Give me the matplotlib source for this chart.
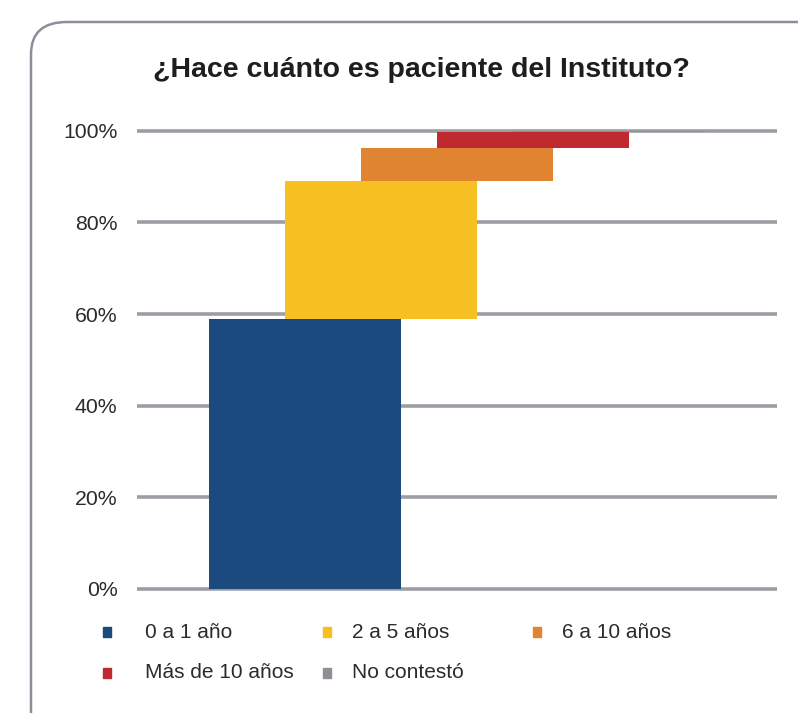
import numpy as np
import matplotlib.pyplot as plt
from matplotlib.patches import FancyBboxPatch

plt.rcParams['font.family'] = ['Liberation Sans', 'DejaVu Sans']

# datos (porcentaje de pacientes)
categorias = ["0 a 1 año", "2 a 5 años", "6 a 10 años", "Más de 10 años", "No contestó"]
valores = [59.0, 30.0, 7.3, 3.4, 0.3]
colores = ["#1a4a7e", "#f6c022", "#e08431", "#c0292f", "#8d9196"]
yticks = [0, 20, 40, 60, 80, 100]
titulo = "¿Hace cuánto es paciente del Instituto?"

W, H = 798, 713
fig = plt.figure(figsize=(W / 100, H / 100), dpi=100)

# marco redondeado que se sale por derecha y abajo
marco = FancyBboxPatch((31 / W, -0.2), 1.2, (H - 22) / H + 0.2,
                       boxstyle="round,pad=0,rounding_size=0.045",
                       transform=fig.transFigure, facecolor="white",
                       edgecolor="#8a9099", linewidth=1.8, clip_on=False, zorder=-5)
fig.patches.append(marco)

ax = fig.add_axes([137 / W, (H - 589) / H, (777 - 137) / W, (589 - 130.7) / H])
ax.patch.set_visible(False)

# barras tipo cascada: cada una arranca donde termina la anterior
x = np.arange(len(valores))
bases = np.concatenate([[0], np.cumsum(valores)[:-1]])
ax.bar(x, valores, bottom=bases, width=2.53, color=colores, zorder=3)

ax.set_xlim(-2.21, 6.21)
ax.set_ylim(0, 100)
ax.set_yticks(yticks)
ax.set_yticklabels([f"{t}%" for t in yticks], fontsize=15.3, color="#2b2b2b")
ax.set_xticks([])
ax.tick_params(axis='y', length=0, pad=14)
for s in ax.spines.values():
    s.set_visible(False)
for t in yticks:
    ax.axhline(t, color="#9b9fa4", linewidth=2.6, zorder=1, clip_on=False,
               solid_capstyle='butt')

fig.text(421 / W, 1 - 70 / H, titulo, ha='center', va='center',
         fontsize=20.5, fontweight='bold', color="#1e1e1e")

# leyenda a mano, en tres columnas
col_x = [107, 327, 537]
fila_y = [632, 673]
for i, (lab, c) in enumerate(zip(categorias, colores)):
    cx = col_x[i % 3]
    cy = fila_y[i // 3]
    fig.patches.append(plt.Rectangle(((cx - 4) / W, 1 - (cy + 5) / H), 8 / W, 10 / H,
                                     transform=fig.transFigure, color=c))
    fig.text((cx + 38 if i % 3 == 0 else cx + 25) / W, 1 - cy / H, lab,
             ha='left', va='center', fontsize=15, color="#2b2b2b")

fig.savefig("out.png", dpi=100)
